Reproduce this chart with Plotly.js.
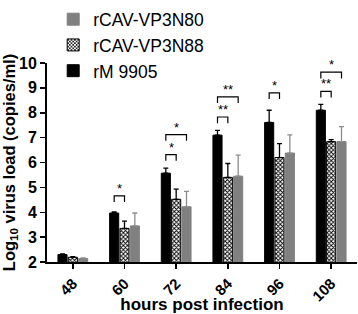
<!DOCTYPE html>
<html><head><meta charset="utf-8">
<script src="https://cdn.plot.ly/plotly-3.0.1.min.js"></script>
<style>html,body{margin:0;padding:0;background:#fff}#c{width:358px;height:314px}</style>
</head><body><div id="c"></div>
<script>
const hours = ['48','60','72','84','96','108'];
const seriesNames = ['rM 9905','rCAV-VP3N88','rCAV-VP3N80'];
const rM9905 = [2.30, 3.97, 5.57, 7.10, 7.61, 8.10];
const rM9905Err = [0.03, 0.04, 0.20, 0.19, 0.49, 0.24];
const n88 = [2.19, 3.35, 4.52, 5.40, 6.20, 6.84];
const n88Err = [0.03, 0.29, 0.41, 0.56, 0.56, 0.08];
const n80 = [2.14, 3.45, 4.22, 5.45, 6.38, 6.84];
const n80Err = [0.02, 0.52, 0.62, 0.85, 0.73, 0.60];
// significance brackets: group index, from series, to series, bracket level, label
const brGroup = [1, 2, 2, 3, 3, 4, 5, 5];
const brFrom  = [0, 0, 0, 0, 0, 0, 0, 0];
const brTo    = [1, 1, 2, 1, 2, 1, 1, 2];
const brLevel = [4.66, 6.32, 7.12, 7.83, 8.64, 8.80, 8.86, 9.63];
const brLabel = ['*','*','*','**','**','*','**','*'];

const FONT = 'Arial, "Liberation Sans", sans-serif';
const idx = hours.map((h,i)=>i);
const BARGAP = 0.4, SLOT = (1-BARGAP)/3;

function errArr(a){return {type:'data', array:a, symmetric:false, arrayminus:a.map(()=>0), thickness:1.3, width:2.5};}
const traces = [
  {type:'bar', name:seriesNames[0], x:idx, y:rM9905, marker:{color:'#000', line:{color:'#000', width:1}},
   error_y:Object.assign(errArr(rM9905Err),{color:'#000'})},
  {type:'bar', name:seriesNames[1], x:idx, y:n88, marker:{color:'#fff', line:{color:'#000', width:1},
   pattern:{shape:'x', fgcolor:'#000', bgcolor:'#fff', size:3, solidity:0.5}},
   error_y:Object.assign(errArr(n88Err),{color:'#000'})},
  {type:'bar', name:seriesNames[2], x:idx, y:n80, marker:{color:'#808080', line:{color:'#808080', width:1}},
   error_y:Object.assign(errArr(n80Err),{color:'#8c8c8c'})}
];

const shapes = [], annotations = [];
const drop = 0.25;
brGroup.forEach((g,k)=>{
  const x0 = g + (brFrom[k]-1)*SLOT, x1 = g + (brTo[k]-1)*SLOT, y = brLevel[k];
  shapes.push({type:'path', xref:'x', yref:'y',
    path:`M${x0},${y-drop} L${x0},${y} L${x1},${y} L${x1},${y-drop}`,
    line:{color:'#000', width:1.2}});
  annotations.push({xref:'x', yref:'y', x:(x0+x1)/2, y:y, text:brLabel[k], showarrow:false,
    yanchor:'bottom', yshift:-2, font:{family:FONT, size:13, color:'#000'}});
});

const layout = {
  width:358, height:314, margin:{l:47, r:1, t:55, b:52},
  paper_bgcolor:'#fff', plot_bgcolor:'#fff',
  barmode:'group', bargap:BARGAP, bargroupgap:0.12,
  font:{family:FONT, color:'#000'},
  showlegend:true,
  legend:{x:0.02, y:1.31, xanchor:'left', yanchor:'top', traceorder:'reversed', tracegroupgap:0,
    font:{family:FONT, size:17.5, color:'#000'}, bgcolor:'rgba(0,0,0,0)'},
  xaxis:{range:[-0.5,5.5], tickmode:'array', tickvals:idx, ticktext:hours, tickangle:-45,
    showline:true, linecolor:'#000', linewidth:2, ticks:'outside', ticklen:5, tickwidth:1.5, tickcolor:'#000',
    showgrid:false, zeroline:false, tickfont:{family:FONT, size:15, weight:'bold'},
    title:{text:'<b>hours post infection</b>', font:{family:FONT, size:17}, standoff:4}},
  yaxis:{range:[2,10], tickvals:[2,3,4,5,6,7,8,9,10], showline:true, linecolor:'#000', linewidth:2,
    ticks:'outside', ticklen:5, tickwidth:1.5, tickcolor:'#000', showgrid:false, zeroline:false,
    tickfont:{family:FONT, size:16, weight:'bold'},
    title:{text:'<b>Log<sub>10</sub> virus load (copies/ml)</b>', font:{family:FONT, size:16.5}, standoff:5}},
  shapes:shapes, annotations:annotations
};
Plotly.newPlot('c', traces, layout, {displayModeBar:false, staticPlot:true});
</script></body></html>
